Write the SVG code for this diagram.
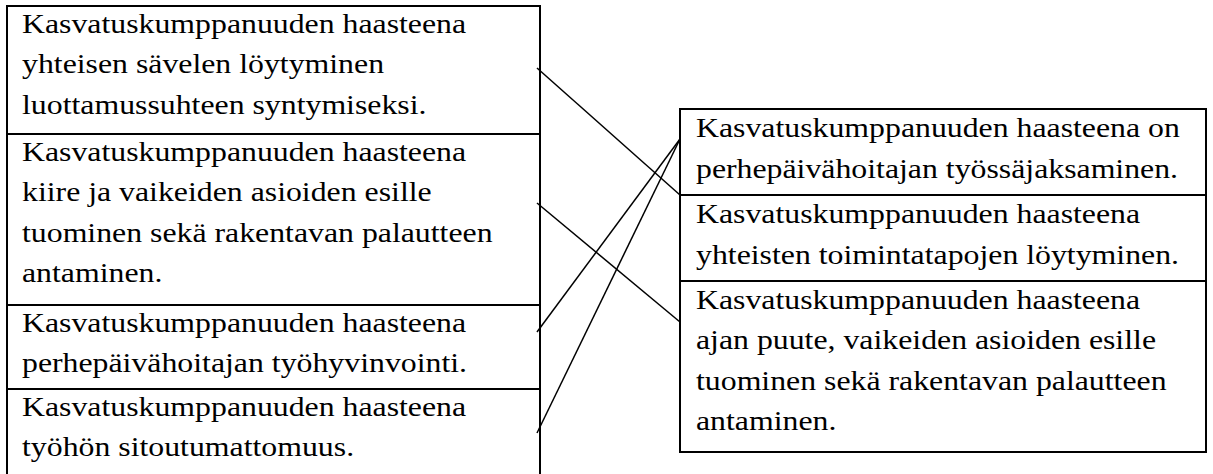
<svg xmlns="http://www.w3.org/2000/svg" width="1213" height="474" viewBox="0 0 1213 474">
<style>
.box{fill:#fff;stroke:#000;stroke-width:2}
.t{font-family:"Liberation Serif","Times New Roman",serif;font-size:26.5px;fill:#000}
.c{stroke:#000;stroke-width:1.5;fill:none}
</style>
<rect width="1213" height="474" fill="#fff"/>
<g id="left1">
<rect class="box" x="7" y="6" width="533" height="128"/>
<text class="t" transform="translate(22,33) scale(1.2,1)"><tspan x="0" y="0">Kasvatuskumppanuuden haasteena</tspan><tspan x="0" y="40.5">yhteisen sävelen löytyminen</tspan><tspan x="0" y="81">luottamussuhteen syntymiseksi.</tspan></text>
</g>
<g id="left2">
<rect class="box" x="7" y="134" width="533" height="171"/>
<text class="t" transform="translate(22,161) scale(1.2,1)"><tspan x="0" y="0">Kasvatuskumppanuuden haasteena</tspan><tspan x="0" y="40.5">kiire ja vaikeiden asioiden esille</tspan><tspan x="0" y="81">tuominen sekä rakentavan palautteen</tspan><tspan x="0" y="121.5">antaminen.</tspan></text>
</g>
<g id="left3">
<rect class="box" x="7" y="305" width="533" height="84"/>
<text class="t" transform="translate(22,332) scale(1.2,1)"><tspan x="0" y="0">Kasvatuskumppanuuden haasteena</tspan><tspan x="0" y="40.5">perhepäivähoitajan työhyvinvointi.</tspan></text>
</g>
<g id="left4">
<rect class="box" x="7" y="389" width="533" height="95"/>
<text class="t" transform="translate(22,416) scale(1.2,1)"><tspan x="0" y="0">Kasvatuskumppanuuden haasteena</tspan><tspan x="0" y="40.5">työhön sitoutumattomuus.</tspan></text>
</g>
<g id="right1">
<rect class="box" x="680" y="109" width="526" height="86"/>
<text class="t" transform="translate(696,137) scale(1.2,1)"><tspan x="0" y="0">Kasvatuskumppanuuden haasteena on</tspan><tspan x="0" y="41">perhepäivähoitajan työssäjaksaminen.</tspan></text>
</g>
<g id="right2">
<rect class="box" x="680" y="195" width="526" height="86"/>
<text class="t" transform="translate(696,223) scale(1.2,1)"><tspan x="0" y="0">Kasvatuskumppanuuden haasteena</tspan><tspan x="0" y="41">yhteisten toimintatapojen löytyminen.</tspan></text>
</g>
<g id="right3">
<rect class="box" x="680" y="281" width="526" height="171"/>
<text class="t" transform="translate(696,309) scale(1.2,1)"><tspan x="0" y="0">Kasvatuskumppanuuden haasteena</tspan><tspan x="0" y="40.5">ajan puute, vaikeiden asioiden esille</tspan><tspan x="0" y="81">tuominen sekä rakentavan palautteen</tspan><tspan x="0" y="121.5">antaminen.</tspan></text>
</g>
<g id="connectors">
<line class="c" x1="537" y1="68" x2="680" y2="195"/>
<line class="c" x1="537" y1="203" x2="680" y2="322"/>
<line class="c" x1="537" y1="332" x2="680" y2="139"/>
<line class="c" x1="537" y1="433" x2="680" y2="139"/>
</g>
</svg>
